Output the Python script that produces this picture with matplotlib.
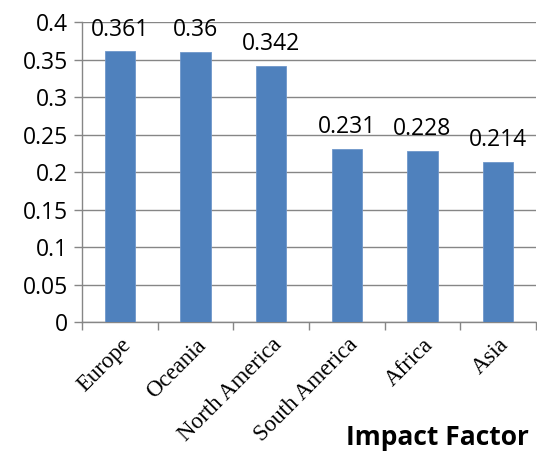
import matplotlib
matplotlib.use("Agg")
import matplotlib.pyplot as plt
import numpy as np

regions = ["Europe", "Oceania", "North America", "South America", "Africa", "Asia"]
impact = [0.361, 0.36, 0.342, 0.231, 0.228, 0.214]
value_labels = ["0.361", "0.36", "0.342", "0.231", "0.228", "0.214"]
y_ticks = [0, 0.05, 0.1, 0.15, 0.2, 0.25, 0.3, 0.35, 0.4]
y_tick_labels = ["0", "0.05", "0.1", "0.15", "0.2", "0.25", "0.3", "0.35", "0.4"]

fig = plt.figure(figsize=(5.37, 4.51), dpi=100)
ax = fig.add_axes([0.153, 0.286, 0.845, 0.665])

x = np.arange(len(regions))
bars = ax.bar(x, impact, width=0.4, color="#4F81BD", edgecolor="#6F97CA",
              linewidth=0.6, zorder=3)

for xi, v, lab in zip(x, impact, value_labels):
    ax.text(xi, v + 0.013, lab, ha="center", va="bottom", fontsize=16.5,
            family="Open Sans", zorder=4, clip_on=False)

ax.set_ylim(0, 0.4)
ax.set_xlim(-0.5, len(regions) - 0.5)
ax.set_yticks(y_ticks)
ax.set_yticklabels(y_tick_labels, family="Open Sans", fontsize=16.5)
ax.yaxis.grid(True, color="#868686", linewidth=1.0, zorder=0)

# ticks sit on category boundaries, labels at the centres
ax.set_xticks(np.arange(len(regions) + 1) - 0.5)
ax.set_xticklabels([])
ax.set_xticks(x, minor=True)
ax.set_xticklabels(regions, minor=True, rotation=45, ha="right",
                   rotation_mode="anchor", family="Liberation Serif", fontsize=16.5)
ax.tick_params(axis="x", which="minor", length=0, pad=9)
ax.tick_params(axis="x", which="major", length=6, color="#868686", width=1)
ax.tick_params(axis="y", length=6, color="#868686", width=1, pad=4)

for side in ["top", "right"]:
    ax.spines[side].set_visible(False)
for side in ["left", "bottom"]:
    ax.spines[side].set_color("#868686")
    ax.spines[side].set_linewidth(1)

fig.text(0.815, 0.0, "Impact Factor", ha="center", va="bottom",
         fontsize=19, fontweight="bold", family="Open Sans")

fig.savefig("out.png", dpi=100)
